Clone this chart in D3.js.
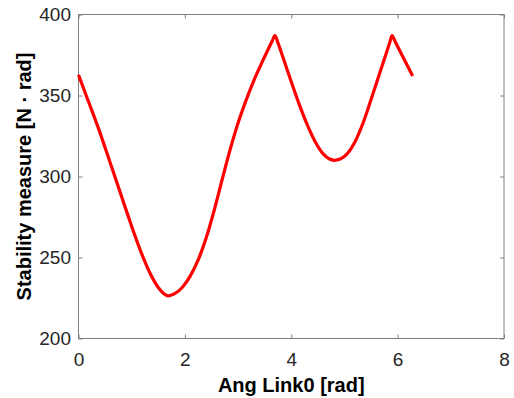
<!DOCTYPE html>
<html>
<head>
<meta charset="utf-8">
<script src="https://cdn.jsdelivr.net/npm/d3@7/dist/d3.min.js"></script>
<style>
  html, body { margin: 0; padding: 0; background: #fff; }
  svg { display: block; }
  text { font-family: "Liberation Sans", Arial, Helvetica, sans-serif; }
</style>
</head>
<body>
<div id="chart"></div>
<script>
// angle of link 0 [rad]
var angLink0 = [0, 0.15, 0.35, 0.55, 0.75, 0.95, 1.15, 1.35, 1.50, 1.60, 1.69,
    1.80, 1.95, 2.10, 2.25, 2.40, 2.55, 2.70, 2.85, 3.00, 3.15, 3.30, 3.45, 3.58, 3.64, 3.695,
    3.75, 3.85, 4.00, 4.15, 4.30, 4.45, 4.60, 4.72, 4.81, 4.92,
    5.05, 5.20, 5.35, 5.50, 5.65, 5.78, 5.85, 5.895,
    5.95, 6.10, 6.283];

// stability measure [N rad]
var stability = [362.7, 349.5, 332, 313, 293.5, 274, 255.5, 240, 231.5, 227.8, 226.3,
    227.5, 231.5, 238.5, 248.5, 262, 279, 298, 316.5, 333, 347, 359.5, 370.5, 379.5, 383.5, 387,
    382.5, 373, 358.5, 344.5, 332, 321.5, 314, 310.8, 310, 310.8,
    314, 321.5, 333, 347.5, 362.5, 375.5, 382.5, 387,
    383.5, 373.8, 362];

var xTicks = [0, 2, 4, 6, 8];
var yTicks = [200, 250, 300, 350, 400];

var margin = {top: 14.5, right: 10, bottom: 59.5, left: 78.5};
var svgWidth = 514, svgHeight = 398;
var width = svgWidth - margin.left - margin.right;
var height = svgHeight - margin.top - margin.bottom;

var svg = d3.select("#chart").append("svg")
    .attr("width", svgWidth)
    .attr("height", svgHeight);

var plotArea = svg.append("g")
    .attr("transform", "translate(" + margin.left + "," + margin.top + ")");

var xscale = d3.scaleLinear().domain([0, 8]).range([0, width]);
var yscale = d3.scaleLinear().domain([200, 400]).range([height, 0]);

var axisColour = "#808080";
var textColour = "#262626";

// box
plotArea.append("rect")
    .attr("width", width)
    .attr("height", height)
    .attr("fill", "none")
    .attr("stroke", axisColour)
    .attr("stroke-width", 1);

// axes, ticks pointing inwards (box on)
var xAxis = d3.axisBottom(xscale).tickValues(xTicks).tickSizeInner(-4).tickSizeOuter(0).tickPadding(14);
var yAxis = d3.axisLeft(yscale).tickValues(yTicks).tickSizeInner(-4).tickSizeOuter(0).tickPadding(7.5);
var xAxisTop = d3.axisTop(xscale).tickValues(xTicks).tickSizeInner(-4).tickSizeOuter(0).tickFormat("");
var yAxisRight = d3.axisRight(yscale).tickValues(yTicks).tickSizeInner(-4).tickSizeOuter(0).tickFormat("");

var gX = plotArea.append("g")
    .attr("transform", "translate(0," + height + ")")
    .call(xAxis);
var gY = plotArea.append("g").call(yAxis);
var gXt = plotArea.append("g").call(xAxisTop);
var gYr = plotArea.append("g").attr("transform", "translate(" + width + ",0)").call(yAxisRight);

[gX, gY, gXt, gYr].forEach(function (g) {
    g.select(".domain").remove();
    g.selectAll(".tick line").attr("stroke", axisColour);
    g.selectAll(".tick text")
        .attr("fill", textColour)
        .style("font-size", "19px")
        .style("font-family", "'Liberation Sans', Arial, sans-serif");
});

// curve
var line = d3.line()
    .x(function (d, i) { return xscale(angLink0[i]); })
    .y(function (d) { return yscale(d); })
    .curve(d3.curveMonotoneX);

plotArea.append("path")
    .datum(stability)
    .attr("d", line)
    .attr("fill", "none")
    .attr("stroke", "#ff0000")
    .attr("stroke-width", 3.2)
    .attr("stroke-linejoin", "round");

// axis labels
svg.append("text")
    .attr("x", margin.left + width / 2)
    .attr("y", 392)
    .attr("text-anchor", "middle")
    .attr("fill", "#000")
    .style("font-size", "20px")
    .style("font-weight", "bold")
    .text("Ang Link0 [rad]");

svg.append("text")
    .attr("transform", "translate(31," + (margin.top + height / 2) + ") rotate(-90)")
    .attr("text-anchor", "middle")
    .attr("fill", "#000")
    .style("font-size", "20px")
    .style("font-weight", "bold")
    .text("Stability measure [N \u00b7 rad]");
</script>
</body>
</html>
